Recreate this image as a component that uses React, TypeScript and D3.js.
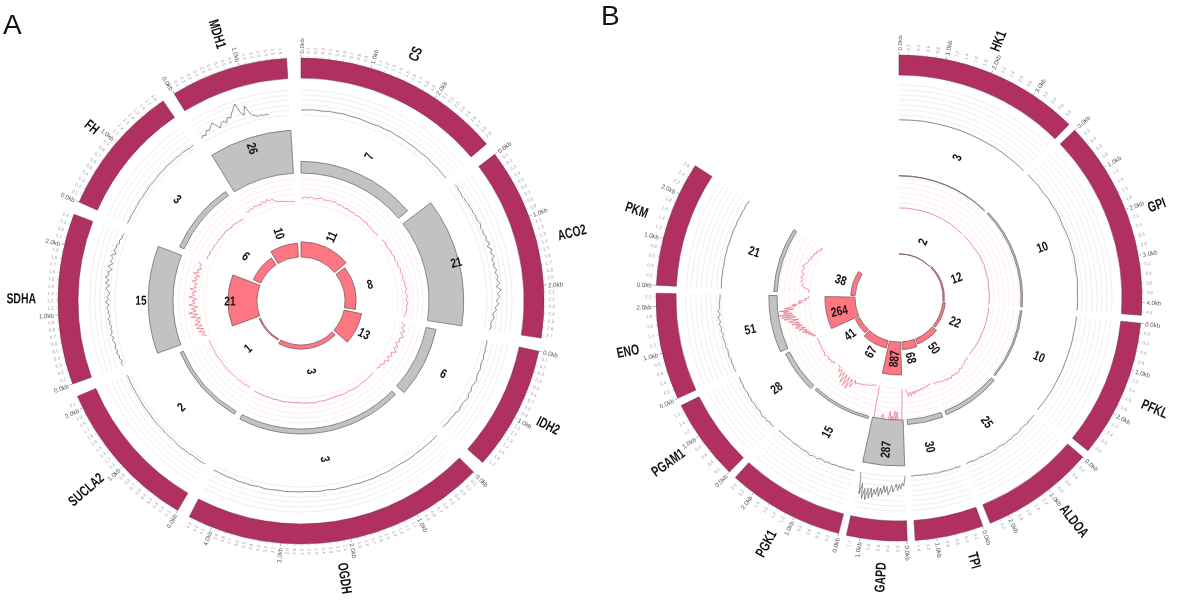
import React from "react";
import * as d3 from "d3";

// ---------- Panel A data ----------
const genesA = ["CS", "ACO2", "IDH2", "OGDH", "SUCLA2", "SDHA", "FH", "MDH1"];
const lengthsA = [2.98, 2.75, 1.78, 4.35, 2.18, 2.45, 1.88, 1.68];
const countsOuterA = [7, 21, 6, 3, 2, 15, 3, 26];
const countsInnerA = [11, 8, 13, 3, 1, 21, 6, 10];

const csGrey = [1.0, 1.05, 1.1, 1.0, 1.15, 1.1, 1.2, 1.05, 1.1, 1.0, 0.95, 1.1, 1.05, 1.15, 1.0, 1.1, 0.95, 1.0, 0.9, 1.0, 0.85, 0.9, 0.8, 0.75];
const aco2Grey = [1.4, 1.5, 1.3, 1.4, 1.2, 1.4, 1.3, 1.5, 1.4, 1.6, 1.4, 1.7, 1.5, 1.6, 1.9, 1.5, 1.8, 1.6, 2.0, 1.7, 2.3, 1.6, 2.4, 1.9, 2.5, 1.8, 2.2, 1.9, 2.4, 2.1, 2.5, 2.2, 2.7, 2.0, 2.9, 2.1, 2.6, 1.9, 2.4, 1.7, 1.9, 1.2, 1.6, 1.3, 1.0, 1.2, 0.9];
const idh2Grey = [0.8, 0.9, 0.8, 1.0, 0.9, 1.1, 0.9, 1.0, 1.2, 1.0, 1.1, 1.4, 1.2, 1.0, 1.3, 1.1, 1.5, 1.2, 1.0, 1.1, 1.3, 0.9, 1.0, 0.8, 0.9, 0.8, 0.7];
const ogdhGrey = [1.0, 1.1, 1.0, 1.05, 1.0, 1.1, 1.05, 0.95, 1.0, 1.1, 1.0, 1.15, 1.05, 1.1, 0.95, 1.05, 1.0, 1.1, 0.9, 1.05, 1.0, 0.9, 1.0, 0.95, 1.05, 0.9, 1.0, 1.05, 0.85, 1.0, 0.9, 0.95, 0.85, 0.9, 0.8, 0.85];
const suclaGrey = [0.6, 0.65, 0.6, 0.55, 0.65, 0.6, 0.7, 0.6, 0.55, 0.6, 0.65, 0.55, 0.6, 0.65, 0.6, 0.55, 0.6, 0.65, 0.6, 0.55, 0.6, 0.55, 0.6, 0.55, 0.6];
const sdhaGrey = [0.6, 0.8, 0.5, 0.9, 0.7, 1.1, 0.8, 1.2, 0.9, 1.0, 1.3, 1.0, 1.5, 1.1, 1.3, 1.0, 1.4, 1.2, 1.6, 1.1, 1.5, 1.3, 1.7, 1.2, 1.9, 1.3, 1.6, 1.1, 1.4, 1.9, 1.2, 2.1, 1.4, 2.2, 1.5, 1.8, 1.1, 2.0, 1.2, 1.7, 1.4, 1.8, 1.0, 1.6, 1.2, 1.4, 0.9, 1.1, 0.7, 0.8, 0.6];
const fhGrey = [0.8, 0.75, 0.8, 0.7, 0.75, 0.7, 0.8, 0.65, 0.75, 0.7, 0.85, 0.75, 0.7, 0.8, 0.85, 0.7, 0.9, 0.8, 0.75, 0.85, 0.7, 0.75, 0.7, 0.6, 0.65];
const mdh1Grey = [0.9, 1.3, 1.0, 1.8, 1.5, 2.1, 2.6, 1.9, 1.0, 1.7, 2.0, 1.4, 2.4, 2.0, 2.9, 3.6, 4.4, 2.4, 1.6, 3.4, 2.0, 1.2, 1.0, 0.7, 0.9, 0.6, 0.8, 0.6, null, null, null, null, null, null, null, null];

const csPink = [1.0, 1.4, 1.3, 1.5, 1.2, 1.4, 1.6, 1.3, 1.5, 1.4, 1.6, 1.2, 1.4, 1.1, 1.3, 1.0, 1.2, 0.9, 1.1, 1.0, 0.8, 1.0, 0.7, 0.8, 0.6, 0.8, 0.7];
const aco2Pink = [0.9, 1.1, 1.0, 0.9, 1.2, 1.0, 1.3, 1.1, 1.4, 1.2, 1.5, 1.3, 1.6, 1.4, 1.7, 1.6, 1.8, 1.5, 1.9, 1.6, 2.0, 1.7, 1.8, 1.6, 1.4];
const idh2Pink = [1.2, 2.0, 1.4, 2.2, 1.5, 2.4, 1.6, 1.9, 1.3, 2.0, 1.4, 2.2, 1.3, 1.8, 1.2, 1.9, 1.1, 1.5, 0.9, 1.2, 0.8];
const ogdhPink = [0.9, 1.0, 1.1, 1.0, 1.2, 1.1, 1.0, 1.1, 1.0, 0.9, 1.0, 1.1, 1.0, 1.2, 1.0, 1.1, 0.9, 1.0, 0.95, 1.05, 0.9, 1.0, 0.85, 0.95, 0.9, 0.85];
const suclaPink = [0.6, 0.65, 0.7, 0.6, 0.7, 0.65, 0.6, 0.65, 0.7, 0.6, 0.65, 0.55, 0.6, 0.65, 0.6, 0.55, 0.6, 0.55, 0.6];
const sdhaPink = [0.6, 1.5, 0.7, 1.9, 0.8, 2.2, 1.0, 2.4, 1.2, 2.0, 1.0, 2.8, 1.4, 3.2, 1.6, 2.6, 1.3, 3.0, 1.8, 2.4, 1.5, 3.0, 1.9, 2.5, 1.6, 2.9, 1.7, 2.2, 1.6, 2.7, 1.8, 2.4, 1.5, 2.8, 1.8, 2.3, 1.4, 2.0, 1.7, 2.6];
const fhPink = [1.2, 1.3, 1.1, 1.3, 1.2, 1.0, 1.2, 1.1, 1.0, 1.2, 0.9, 1.1, 1.0, 1.2, 0.9, 1.0, 0.8, 1.0, 0.9, 0.7, 0.8, 0.6, 0.7];
const mdh1Pink = [1.5, 1.3, 1.6, 1.4, 1.7, 1.5, 1.6, 1.4, 1.9, 1.5, 2.0, 1.6, 1.8, 1.4, 1.1, 1.0, 0.9, 0.8, 0.7, 0.6, 0.65, 0.5, 0.55];

// ---------- Panel B data ----------
const genesB = ["HK1", "GPI", "PFKL", "ALDOA", "TPI", "GAPD", "PGK1", "PGAM1", "ENO", "PKM"];
const lengthsB = [3.97, 4.27, 2.95, 2.42, 1.46, 1.29, 2.5, 1.74, 2.28, 2.68];
const countsOuterB = [3, 10, 10, 25, 30, 287, 15, 28, 51, 21];
const countsInnerB = [2, 12, 22, 50, 68, 887, 67, 41, 264, 38];

const hk1GreyB = [0.05, 0.05, 0.1, 0.05, 0.05, 0.1, 0.05, 0.05, 0.1, 0.05, 0.05, 0.05];
const gpiGreyB = [0.1, 0.1, 0.2, 0.1, 0.3, 0.2, 0.35, 0.3, 0.2, 0.3, 0.4, 0.3, 0.4, 0.3, 0.2, 0.3, 0.2, 0.1, 0.15, 0.1];
const pfklGreyB = [0.1, 0.1, 0.05, 0.1, 0.05, 0.05, 0.1, 0.05, 0.1, 0.05, 0.05, 0.0];
const aldoaGreyB = [0.2, 0.2, 0.1, 0.3, 0.2, 0.1, 0.3, 0.4, 0.2, 0.4, 0.3, 0.5, 0.3, 0.2, 0.4, 0.3, 0.4, 0.2, 0.3, 0.1, 0.3, 0.2, 0.1, 0.2];
const tpiGreyB = [0.2, 0.25, 0.15, 0.3, 0.2, 0.25, 0.15, 0.2, 0.3, 0.15, 0.25, 0.1, 0.2, 0.05, 0.15, 0.0, 0.1, 0.05];
const gapdGreyB = [0.0, 2.0, 1.4, 2.6, 1.7, 2.9, 1.6, 2.4, 3.2, 1.9, 3.0, 3.8, 2.2, 3.4, 2.1, 3.8, 2.6, 4.3, 2.5, 4.0, 3.0, 4.6, 2.8, 4.9, 3.0, 5.3, 3.1, 5.2, 2.2, 4.4, 1.0, 0.1];
const pgk1GreyB = [0.1, 0.1, 0.2, 0.1, 0.2, 0.15, 0.3, 0.2, 0.4, 0.15, 0.5, 0.3, 0.6, 0.2, 0.4, 0.3, 0.2, 0.3, 0.2, 0.15, 0.2, 0.1, 0.2];
const pgam1GreyB = [0.3, 0.4, 0.2, 0.5, 0.3, 0.6, 0.4, 0.2, 0.4, 0.3, 0.2, 0.4, 0.2, 0.3, 0.1, 0.2, 0.3, 0.1, 0.2, 0.1, 0.05];
const enoGreyB = [0.2, 0.3, 0.2, 0.3, 0.2, 0.4, 0.3, 0.2, 0.4, 0.3, 0.4, 0.5, 0.3, 0.6, 0.4, 0.7, 0.4, 0.8, 0.3, 0.7, 0.3, 0.4, 0.3, 0.2, 0.2];
const pkmGreyB = [0.0, 0.0, 0.1, 0.05, 0.1, 0.05, 0.1, 0.15, 0.1, 0.2, 0.1, 0.15, 0.1, 0.2, 0.1, 0.2, 0.1, 0.15, 0.1, 0.2, 0.1];

const hk1PinkB = [0.0, 0.05, 0.0, 0.0, 0.05, 0.0, 0.0, 0.05, 0.0, 0.0];
const gpiPinkB = [0.0, 0.0, 0.05, 0.0, 0.1, 0.3, 0.2, 0.3, 0.2, 0.1, 0.2, 0.1, 0.05, 0.1, 0.05, 0.0];
const pfklPinkB = [0.0, 0.1, 0.0, 0.1, 0.05, 0.1, 0.0, 0.1, 0.05, 0.1, 0.0, 0.0];
const aldoaPinkB = [0.1, 0.3, 0.2, 0.4, 0.6, 0.5, 0.8, 0.6, 0.9, 1.1, 0.8, 1.0, 0.7, 1.2, 0.8, 1.1, 0.7, 0.9, 0.6, 0.7, 0.4, 0.6, 0.3];
const tpiPinkB = [0.2, 0.4, 0.3, 0.6, 0.5, 0.7, 0.6, 0.9, 0.6, 1.0, 0.7, 1.2, 0.8, 1.5, 0.9, 1.7, 1.0, 1.8, 0.9, 0.3];
const gapdPinkB = [0.1, 6.5, null, null, 6.5, 4.8, 6.5, 4.6, 6.5, 5.6, 6.5, 4.8, 6.5, null, null, null, 6.5, 5.4, 6.5, null, null, null, null, null, 6.4, 0.1];
const pgk1PinkB = [0.0, 0.2, 0.1, 0.3, 0.5, 0.4, 0.7, 0.5, 0.8, 0.7, 1.0, 0.8, 1.3, 0.6, 2.4, 0.7, 3.0, 0.6, 2.8, 0.5, 2.6, 0.4, 1.8, 0.3, 1.0, 0.2, 0.1, 0.0];
const pgam1PinkB = [0.4, 0.2, 0.6, 0.4, 0.7, 0.3, 0.5, 0.8, 0.4, 0.6, 0.3, 0.5, 0.2, 0.4, 0.1, 0.3, 0.2];
const enoPinkB = [0.2, 0.8, 0.4, 1.2, 0.7, 1.6, 0.9, 2.0, 1.2, 2.5, 1.4, 1.9, 3.0, 1.6, 2.8, 3.6, 2.0, 3.4, 2.4, 4.1, 2.6, 3.6, 4.6, 2.5, 4.2, 5.4, 3.0, 5.8, 3.4, 6.2, 3.6, 5.4, 4.2, 6.0, 3.2, 5.0, 3.8, 2.6, 3.4, 2.0, 1.4, 2.2, 1.2, 0.5, 0.8, 0.1, 0.1, 0.0];
const pkmPinkB = [0.0, 0.1, 0.1, 1.2, 1.6, 1.4, 1.9, 1.5, 2.1, 1.7, 1.6, 2.2, 2.0, 1.8, 2.3, 2.0, 1.7, 1.5, 1.6, 1.2, 1.4, 1.0, 1.2, 0.7, 0.9, 0.3, 0.5, 0.1];

const greyTracesA = [csGrey, aco2Grey, idh2Grey, ogdhGrey, suclaGrey, sdhaGrey, fhGrey, mdh1Grey];
const pinkTracesA = [csPink, aco2Pink, idh2Pink, ogdhPink, suclaPink, sdhaPink, fhPink, mdh1Pink];
const greyTracesB = [hk1GreyB, gpiGreyB, pfklGreyB, aldoaGreyB, tpiGreyB, gapdGreyB, pgk1GreyB, pgam1GreyB, enoGreyB, pkmGreyB];
const pinkTracesB = [hk1PinkB, gpiPinkB, pfklPinkB, aldoaPinkB, tpiPinkB, gapdPinkB, pgk1PinkB, pgam1PinkB, enoPinkB, pkmPinkB];

// ---------- Styling ----------
const SANS = "'Liberation Sans', Arial, sans-serif";
const rad = Math.PI / 180;

type PanelProps = {
  cx: number; cy: number;
  genes: string[]; lengths: number[]; labelNudge?: number[];
  countsOuter: number[]; countsInner: number[];
  greyTraces: (number | null)[][]; pinkTraces: (number | null)[][];
  sweep: number; gapKb: number; tickStep: number;
  greyBase: number; greyLines: number; pinkBase: number; pinkLines: number;
  lineStep: number; outerLow: number; innerLow: number;
  outerMax: number; outerHeight: number; innerMax: number; innerHeight: number;
  greyLabelR: number; innerLabelR: number;
};

function place(r: number, deg: number) {
  return `translate(${r * Math.sin(deg * rad)},${-r * Math.cos(deg * rad)})`;
}
function radialRot(deg: number) {
  return `rotate(${deg < 180 ? deg - 90 : deg + 90})`;
}

function Panel(p: PanelProps) {
  const total = d3.sum(p.lengths) + p.gapKb * (p.lengths.length - 1);
  const toDeg = d3.scaleLinear([0, total], [0, p.sweep]);
  let cursor = 0;
  const sectors = p.lengths.map((len) => {
    const s = { a0: toDeg(cursor), a1: toDeg(cursor + len), len };
    cursor += len + p.gapKb;
    return s;
  });
  const outerH = d3.scaleLinear([0, p.outerMax], [0, p.outerHeight]).clamp(true);
  const innerH = d3.scaleLinear([0, p.innerMax], [0, p.innerHeight]).clamp(true);
  const arc = d3.arc();
  const seg = (r0: number, r1: number, a0: number, a1: number) =>
    arc({ innerRadius: r0, outerRadius: r1, startAngle: a0 * rad, endAngle: a1 * rad } as any) as string;
  const gridPath = (r: number, a0: number, a1: number) =>
    d3.lineRadial<number>().angle((d) => d * rad).radius(r)(d3.range(0, 25).map((i) => a0 + ((a1 - a0) * i) / 24)) as string;

  const tracePath = (vals: (number | null)[], base: number, s: { a0: number; a1: number }) => {
    const aScale = d3.scaleLinear([0, vals.length - 1], [s.a0, s.a1]);
    const rScale = d3.scaleLinear([0, 1], [base, base + p.lineStep]);
    return d3
      .lineRadial<number | null>()
      .defined((d) => d !== null)
      .angle((_, i) => aScale(i) * rad)
      .radius((d) => rScale(d as number))(vals) as string;
  };

  return (
    <g transform={`translate(${p.cx},${p.cy})`}>
      {sectors.map((s, i) => {
        const mid = (s.a0 + s.a1) / 2;
        const labelAngle = mid + (p.labelNudge ? p.labelNudge[i] : 0);
        const kb = d3.scaleLinear([0, s.len], [s.a0, s.a1]);
        const n = Math.floor((s.len - 0.05) / p.tickStep + 1e-6);
        const ticks = d3.range(0, n + 1).map((k) => Math.round(k * p.tickStep * 10) / 10);
        return (
          <g key={p.genes[i]}>
            {/* outer ideogram */}
            <path d={seg(223, 243, s.a0, s.a1)} fill="#AF2F60" stroke="#6a2a45" strokeWidth={0.5} />
            {ticks.map((t) => {
              const d = kb(t);
              const major = Number.isInteger(t);
              return (
                <g key={t}>
                  <line
                    x1={243.5 * Math.sin(d * rad)} y1={-243.5 * Math.cos(d * rad)}
                    x2={(major ? 246 : 245) * Math.sin(d * rad)} y2={-(major ? 246 : 245) * Math.cos(d * rad)}
                    stroke={major ? "#555" : "#999"} strokeWidth={0.5}
                  />
                  <text
                    transform={`${place(247.5, d)} ${radialRot(d)}`}
                    textAnchor={d < 180 ? "start" : "end"} dominantBaseline="central"
                    fontFamily={SANS} fontSize={major ? 6.2 : 4.6}
                    fill={major ? "#555" : "#a0a0a0"}
                  >
                    {major ? `${t.toFixed(1)}kb` : t.toFixed(1)}
                  </text>
                </g>
              );
            })}
            {/* grey track grid + trace */}
            {d3.range(0, p.greyLines).map((k) => (
              <path key={k} d={gridPath(p.greyBase + k * p.lineStep, s.a0, s.a1)} fill="none" stroke="#e2e2e2" strokeWidth={0.6} />
            ))}
            <path d={tracePath(p.greyTraces[i], p.greyBase, s)} fill="none" stroke="#4a4a4a" strokeWidth={0.6} />
            {/* grey count bars */}
            <path d={seg(p.outerLow, p.outerLow + outerH(p.countsOuter[i]), s.a0, s.a1)} fill="#c2c2c2" stroke="#6e6e6e" strokeWidth={0.8} />
            {/* pink track grid + trace */}
            {d3.range(0, p.pinkLines).map((k) => (
              <path key={k} d={gridPath(p.pinkBase + k * p.lineStep, s.a0, s.a1)} fill="none" stroke="#fcdfe3" strokeWidth={0.6} />
            ))}
            <path d={tracePath(p.pinkTraces[i], p.pinkBase, s)} fill="none" stroke="#e4506c" strokeWidth={0.6} />
            {/* inner count bars */}
            <path d={seg(p.innerLow, p.innerLow + innerH(p.countsInner[i]), s.a0, s.a1)} fill="#FF7583" stroke="#7a5a60" strokeWidth={0.8} />
            {/* labels */}
            <text
              transform={`${place(265, labelAngle)} ${radialRot(labelAngle)} scale(0.72,1)`}
              textAnchor={labelAngle < 180 ? "start" : "end"} dominantBaseline="central"
              fontFamily={SANS} fontWeight="bold" fontSize={14.5} fill="#111"
            >
              {p.genes[i]}
            </text>
            <text
              transform={`${place(p.greyLabelR, mid)} ${radialRot(mid)} scale(0.78,1)`}
              textAnchor="middle" dominantBaseline="central"
              fontFamily={SANS} fontWeight="bold" fontSize={13} fill="#111"
            >
              {p.countsOuter[i]}
            </text>
            <text
              transform={`${place(p.innerLabelR, mid)} ${radialRot(mid)} scale(0.78,1)`}
              textAnchor="middle" dominantBaseline="central"
              fontFamily={SANS} fontWeight="bold" fontSize={13} fill="#111"
            >
              {p.countsInner[i]}
            </text>
          </g>
        );
      })}
    </g>
  );
}

const labelNudgeB = [-1, 0, 1, -2.5, -4, -1.5, 0, 0.5, 0.5, 0.5];

export default function App() {
  return (
    <svg width={1200} height={600} style={{ position: "absolute", left: 0, top: 0, background: "#fff" }}>
      <g opacity={0.995}>
        <text x={3} y={34} fontFamily={SANS} fontSize={28} fill="#111">A</text>
        <text x={601} y={25} fontFamily={SANS} fontSize={28} fill="#111">B</text>
        <Panel
          cx={301} cy={301}
          genes={genesA} lengths={lengthsA}
          countsOuter={countsOuterA} countsInner={countsInnerA}
          greyTraces={greyTracesA} pinkTraces={pinkTracesA}
          sweep={356.6} gapKb={0.187} tickStep={0.1}
          greyBase={186} greyLines={6} pinkBase={97} pinkLines={6} lineStep={5}
          outerLow={128} innerLow={44}
          outerMax={26} outerHeight={43} innerMax={21} innerHeight={29}
          greyLabelR={160} innerLabelR={71}
        />
        <Panel
          cx={899} cy={298}
          genes={genesB} lengths={lengthsB} labelNudge={labelNudgeB}
          countsOuter={countsOuterB} countsInner={countsInnerB}
          greyTraces={greyTracesB} pinkTraces={pinkTracesB}
          sweep={303} gapKb={0.17} tickStep={0.2}
          greyBase={178} greyLines={8} pinkBase={90} pinkLines={7} lineStep={5}
          outerLow={122} innerLow={44}
          outerMax={287} outerHeight={46} innerMax={290} innerHeight={33}
          greyLabelR={152} innerLabelR={61}
        />
      </g>
    </svg>
  );
}
